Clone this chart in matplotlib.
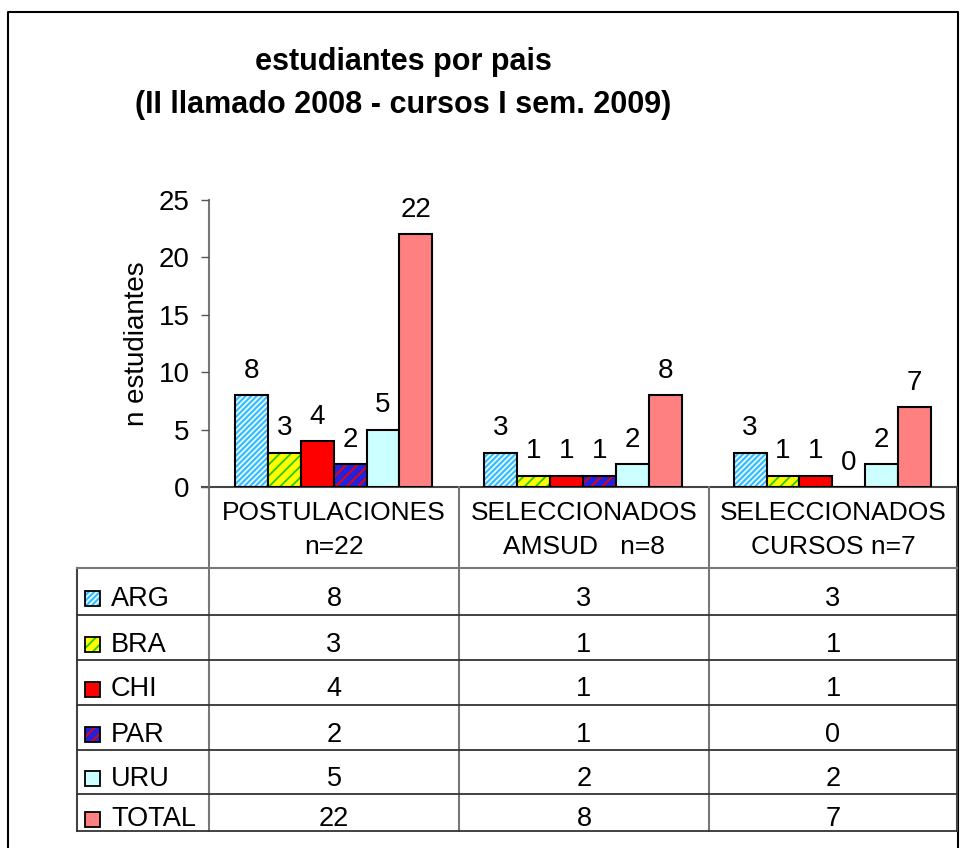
import matplotlib
matplotlib.use('Agg')
import matplotlib.pyplot as plt
import numpy as np

# Data
groups = ['POSTULACIONES\nn=22', 'SELECCIONADOS\nAMSUD   n=8', 'SELECCIONADOS\nCURSOS n=7']
countries = ['ARG', 'BRA', 'CHI', 'PAR', 'URU', 'TOTAL']
values = {
    'ARG':   [8, 3, 3],
    'BRA':   [3, 1, 1],
    'CHI':   [4, 1, 1],
    'PAR':   [2, 1, 0],
    'URU':   [5, 2, 2],
    'TOTAL': [22, 8, 7],
}
face = {'ARG': '#33BBFF', 'BRA': '#FFFF00', 'CHI': '#FF0000',
        'PAR': '#2222DD', 'URU': '#CCFFFF', 'TOTAL': '#FF8080'}
hatch = {'ARG': ('//////', '#E8F8FF'), 'BRA': ('///', '#22CC00'),
         'PAR': ('///', '#EE0000')}

plt.rcParams['font.family'] = ['Liberation Sans', 'DejaVu Sans']
plt.rcParams['hatch.linewidth'] = 1.3

W, H = 961, 848
fig = plt.figure(figsize=(W / 100, H / 100), dpi=100)

# overlay in pixel coordinates for frame + table
ov = fig.add_axes([0, 0, 1, 1])
ov.set_xlim(0, W)
ov.set_ylim(H, 0)
ov.axis('off')

x_ax, x_r = 209, 957
y_top, y_zero = 200, 487
ax = fig.add_axes([x_ax / W, 1 - y_zero / H, (x_r - x_ax) / W, (y_zero - y_top) / H])
ax.set_facecolor('none')

# outer frame
ov.plot([7.5, 7.5, 958, 958], [H + 5, 12, 12, H + 5], color='black', lw=1.5)

# bars
n = len(countries)
bw = 33 / 250
x = np.arange(len(groups))
for i, c in enumerate(countries):
    pos = x + (i - (n - 1) / 2) * bw
    if c in hatch:
        ax.bar(pos, values[c], bw, color=face[c], hatch=hatch[c][0],
               edgecolor=hatch[c][1], linewidth=0)
        ax.bar(pos, values[c], bw, facecolor='none', edgecolor='black', linewidth=1.5)
    else:
        ax.bar(pos, values[c], bw, color=face[c], edgecolor='black', linewidth=1.5)
    for xp, v in zip(pos, values[c]):
        ax.annotate(str(v), (xp, v), xytext=(0, 8), textcoords='offset points',
                    ha='center', va='bottom', fontsize=20)

ax.set_xlim(-0.5, len(groups) - 0.5)
ax.set_ylim(0, 25)
ax.set_yticks(range(0, 26, 5))
ax.tick_params(axis='y', labelsize=20, length=6, width=1, pad=8, color='#555555')
ax.set_xticks([])
for s in ['top', 'right', 'bottom', 'left']:
    ax.spines[s].set_visible(False)
ax.set_ylabel('n estudiantes', fontsize=20, labelpad=6)

# title
ov.text(403, 62, 'estudiantes por pais', ha='center', va='center',
        fontsize=22, fontweight='bold')
ov.text(403, 105, '(II llamado 2008 - cursos I sem. 2009)', ha='center', va='center',
        fontsize=22, fontweight='bold')

# table
col_x = [209, 459, 709, 957]
row_y = [487, 568, 615, 660, 705, 750, 794, 831]
gray = '#777777'
ov.plot([202, 957], [487, 487], color='#444444', lw=1.5)
ov.plot([209, 209], [200, 831], color=gray, lw=1.5)
for cx in col_x[1:-1]:
    ov.plot([cx, cx], [487, 831], color=gray, lw=1.5)
ov.plot([957, 957], [487, 831], color='#444444', lw=1.5)
ov.plot([77, 77], [568, 831], color='#444444', lw=1.5)
ov.plot([77, 957], [568, 568], color=gray, lw=1.5)
for ry in row_y[2:]:
    ov.plot([77, 957], [ry, ry], color='#333333', lw=1.3)

for j, g in enumerate(groups):
    ov.text((col_x[j] + col_x[j + 1]) / 2, 530, g, ha='center', va='center',
            fontsize=19, linespacing=1.55)

for i, c in enumerate(countries):
    yc = (row_y[i + 1] + row_y[i + 2]) / 2 + 7
    # legend key
    if c in hatch:
        ov.add_patch(plt.Rectangle((85, yc - 8), 15, 15, facecolor=face[c],
                                   hatch=hatch[c][0], edgecolor=hatch[c][1], lw=0))
        ov.add_patch(plt.Rectangle((85, yc - 8), 15, 15, facecolor='none',
                                   edgecolor='black', lw=1.3))
    else:
        ov.add_patch(plt.Rectangle((85, yc - 8), 15, 15, facecolor=face[c],
                                   edgecolor='black', lw=1.3))
    ov.text(111, yc, c, ha='left', va='center', fontsize=19.5)
    for j, v in enumerate(values[c]):
        ov.text((col_x[j] + col_x[j + 1]) / 2, yc, str(v), ha='center',
                va='center', fontsize=19.5)

fig.savefig('out.png', dpi=100)
